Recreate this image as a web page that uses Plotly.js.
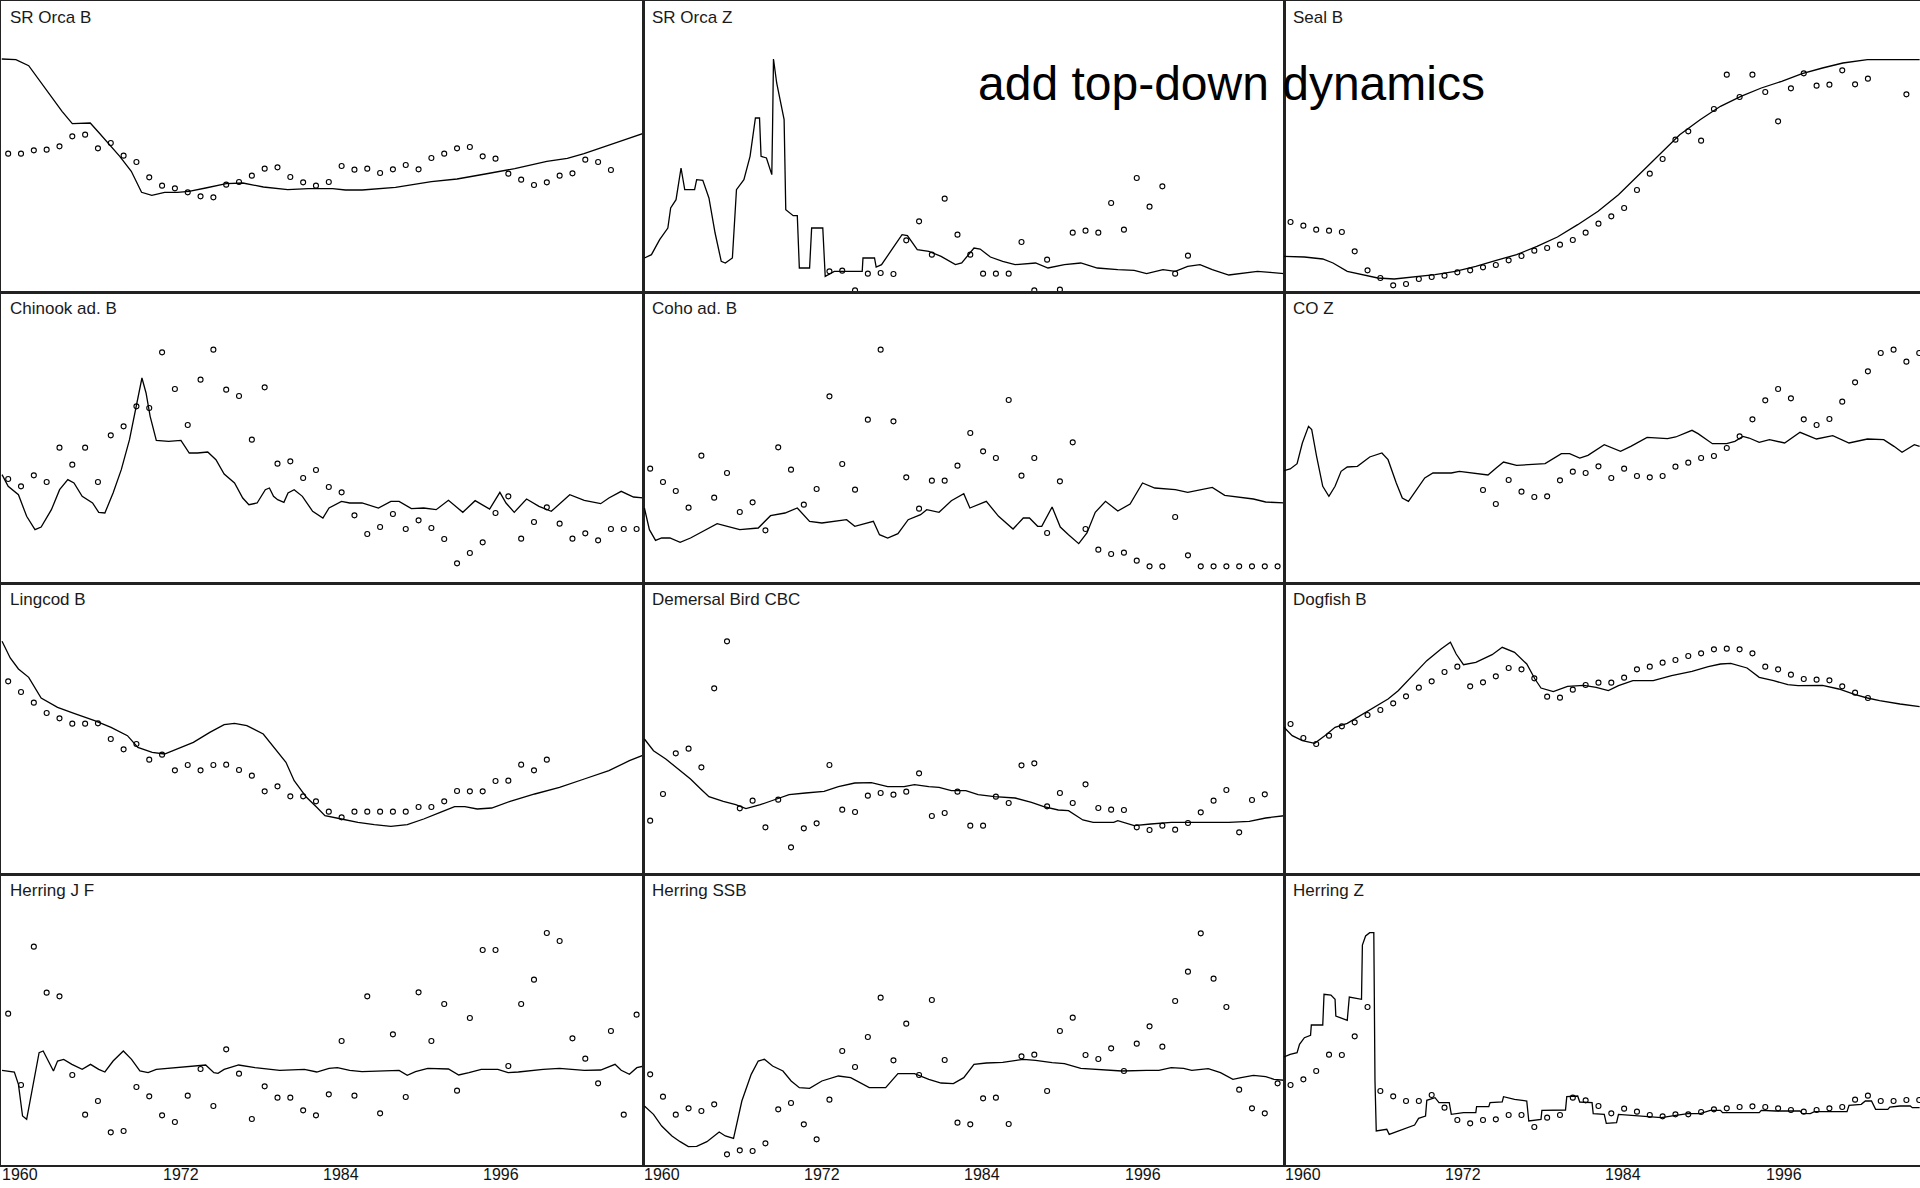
<!DOCTYPE html>
<html><head><meta charset="utf-8">
<script src="https://cdn.plot.ly/plotly-3.0.1.min.js"></script>
<style>html,body{margin:0;padding:0;background:#fff;overflow:hidden}#chart{width:1920px;height:1188px}</style>
</head><body><div id="chart"></div>
<script>
// ---------- DATA (relative index values, 0 = panel bottom) ----------
const panelNames = ["SR Orca B","SR Orca Z","Seal B","Chinook ad. B","Coho ad. B","CO Z",
  "Lingcod B","Demersal Bird CBC","Dogfish B","Herring J F","Herring SSB","Herring Z"];
const firstObsYear = 1960;
const tickLabels = ["1960","1972","1984","1996"];
const tickPositions = [1960.95, 1973.45, 1985.95, 1998.45];
const headline = "add top-down dynamics";

const srOrcaB_obs = [415,415,425,427,437,467,472,431,447,409,390,344,319,311,299,287,284,322,330,349,370,374,345,329,319,330,378,367,370,357,368,381,368,402,415,431,435,407,400,355,337,321,329,349,356,397,390,366];
const srOrcaB_years = [1959.5,1960.6,1961.6,1962.6,1963.5,1964.2,1965.0,1965.8,1966.4,1967.1,1968.0,1968.7,1969.6,1970.4,1971.2,1972.2,1973.2,1974.1,1975.4,1977.0,1978.3,1979.9,1981.8,1983.4,1985.3,1986.3,1987.6,1990.2,1993.0,1995.0,1997.2,1999.5,2002.0,2003.6,2004.9,2006.5,2008.1,2009.6];
const srOrcaB_model = [699,697,679,627,577,542,505,505,507,477,437,407,362,299,290,299,299,302,312,325,327,315,307,310,310,306,306,314,331,339,354,370,392,401,415,437,457,477];

const srOrcaZ_obs = [null,null,null,null,null,null,null,null,null,null,null,null,null,null,62,64,5,55,57,54,155,212,112,280,172,112,55,55,55,150,5,97,7,178,184,178,267,187,342,256,317,55,109];
const srOrcaZ_years = [1959.55,1960.10,1960.74,1961.38,1961.60,1962.02,1962.41,1962.50,1962.70,1963.47,1963.63,1964.11,1964.59,1965.07,1965.55,1965.87,1966.42,1966.74,1967.32,1967.80,1968.22,1968.54,1968.66,1969.08,1969.50,1969.56,1969.63,1969.88,1970.46,1970.59,1971.17,1971.49,1971.65,1972.45,1972.61,1973.48,1973.67,1974.38,1976.56,1976.62,1977.52,1977.65,1978.07,1978.87,1979.67,1980.09,1980.86,1981.76,1982.72,1983.84,1984.33,1985.29,1985.77,1986.57,1987.53,1988.50,1990.10,1991.07,1992.35,1993.63,1994.92,1996.52,1997.80,1998.77,2000.05,2001.01,2001.98,2002.94,2003.90,2005.19,2006.47,2007.43,2008.40,2009.55];
const srOrcaZ_model = [102,112,157,192,252,277,372,347,307,307,337,335,282,177,92,87,102,307,337,407,522,522,407,402,352,497,699,627,517,247,229,229,72,72,192,192,47,62,62,102,102,75,82,127,172,169,127,122,107,82,87,132,129,105,92,82,87,72,82,87,72,67,65,55,67,62,77,82,67,51,57,62,59,55];

const sealB_obs = [210,199,187,184,180,122,65,42,20,24,39,45,49,59,65,74,81,95,108,124,132,142,156,178,205,227,252,306,355,399,457,482,454,549,652,585,652,600,512,611,656,619,622,665,623,640,null,null,593];
const sealB_years = [1959.49,1961.08,1962.51,1963.31,1964.42,1965.53,1966.80,1968.08,1969.35,1971.26,1972.85,1974.44,1976.03,1977.62,1979.21,1980.80,1982.38,1983.97,1985.56,1987.15,1988.74,1990.33,1991.92,1993.51,1995.10,1996.69,1998.28,1999.87,2001.46,2003.05,2004.96,2006.87,2009.03];
const sealB_model = [107,105,99,87,62,52,42,39,44,52,62,77,95,112,137,165,202,242,292,352,412,472,517,557,587,612,632,655,672,687,697,697,697];

const chinook_obs = [312,290,323,303,406,355,406,303,443,470,530,525,692,582,474,610,700,580,561,430,587,358,365,315,339,288,272,203,147,168,207,162,188,165,132,59,90,122,210,260,133,183,227,178,133,149,128,162,162,162];
const chinook_years = [1959.52,1960.00,1960.80,1961.44,1962.09,1962.57,1963.37,1964.01,1964.65,1965.13,1965.77,1966.58,1967.06,1967.54,1968.18,1968.82,1969.46,1970.11,1970.43,1970.75,1971.07,1971.55,1972.51,1973.47,1974.12,1974.76,1975.56,1976.20,1976.84,1977.65,1978.29,1978.77,1979.41,1980.05,1980.37,1980.69,1981.01,1981.50,1981.82,1982.30,1982.94,1983.74,1984.54,1985.02,1985.99,1986.63,1987.59,1988.87,1989.84,1990.48,1991.44,1992.40,1993.37,1994.33,1995.45,1996.41,1997.54,1998.34,1998.82,1999.46,2000.42,2001.39,2002.35,2003.79,2004.92,2006.20,2006.84,2007.80,2008.76,2009.60];
const chinook_model = [325,290,265,200,160,168,220,280,310,300,260,240,212,210,270,340,430,550,615,570,500,428,425,428,390,390,393,370,327,300,255,235,240,280,285,260,250,242,270,280,260,215,195,225,245,240,240,225,245,245,223,225,220,248,212,247,222,272,240,212,252,230,215,265,248,238,255,275,258,255];

const coho_obs = [343,303,276,226,382,256,330,213,242,158,407,340,235,282,560,357,280,490,700,485,317,223,307,307,352,450,395,375,549,322,375,150,305,422,162,100,87,91,67,50,50,198,83,50,50,50,50,50,50,50];
const coho_years = [1959.55,1959.94,1960.42,1960.90,1961.54,1962.34,1963.15,1964.11,1965.23,1966.03,1967.00,1968.44,1969.40,1970.53,1971.49,1972.45,1973.41,1975.34,1975.98,1977.43,1977.91,1978.55,1979.35,1980.15,1981.12,1981.60,1982.56,1983.52,1984.49,1984.97,1986.25,1987.21,1988.34,1989.14,1989.62,1990.26,1990.58,1991.39,1992.03,1992.67,1993.47,1994.11,1994.76,1995.56,1996.52,1997.48,1998.45,1999.41,2001.01,2001.98,2003.90,2004.87,2007.11,2008.07,2009.55];
const coho_model = [225,160,128,135,135,122,135,155,178,170,160,165,202,210,225,185,180,190,170,185,145,135,148,190,205,220,212,247,268,225,245,200,162,195,195,170,170,228,168,145,118,150,212,245,216,237,300,285,280,272,287,263,252,243,240];

const coZ_obs = [null,null,null,null,null,null,null,null,null,null,null,null,null,null,null,279,237,309,274,258,260,308,334,330,350,315,343,321,317,321,349,361,375,381,405,440,491,548,582,554,491,474,492,544,602,635,690,700,664,690];
const coZ_years = [1959.49,1959.97,1960.51,1960.92,1961.40,1961.65,1962.03,1962.51,1962.99,1963.47,1963.94,1964.42,1965.21,1966.17,1967.12,1967.60,1968.24,1968.71,1969.19,1969.83,1970.46,1971.10,1972.53,1973.16,1974.12,1975.39,1976.03,1976.60,1977.62,1979.84,1981.11,1981.75,1982.54,1983.18,1984.45,1985.72,1986.52,1987.79,1989.38,1990.02,1991.29,1991.76,1992.88,1993.99,1994.63,1995.26,1995.74,1996.53,1997.33,1998.51,1999.71,2000.99,2002.26,2003.53,2004.96,2006.23,2007.03,2007.66,2008.62,2009.03];
const coZ_model = [337,342,358,420,470,460,380,290,260,290,335,348,350,378,390,370,300,255,245,280,315,330,330,335,330,324,345,363,353,358,388,388,375,383,415,395,410,437,433,438,458,448,418,418,425,440,435,422,430,420,452,432,442,420,432,430,410,392,415,410];

const lingcod_obs = [578,546,514,483,467,451,451,452,405,374,390,343,358,311,327,311,327,328,312,295,248,263,233,233,218,187,170,187,187,187,187,187,201,201,218,249,248,248,279,280,328,311,343];
const lingcod_years = [1959.52,1960.16,1960.80,1961.60,1962.57,1963.85,1965.13,1966.74,1968.02,1969.30,1970.11,1971.23,1972.19,1973.15,1974.44,1975.72,1976.84,1977.65,1978.61,1979.89,1980.85,1981.66,1982.30,1983.26,1984.06,1984.70,1985.99,1987.27,1988.55,1989.84,1991.12,1992.40,1993.69,1994.81,1995.61,1996.57,1997.70,1999.14,2001.06,2002.99,2004.92,2006.84,2008.44,2009.60];
const lingcod_model = [698,648,615,590,528,500,482,460,440,415,380,365,360,375,395,425,448,452,445,420,375,335,280,230,200,175,165,155,148,143,148,165,185,202,202,195,198,218,240,260,285,310,340,358];

const demersal_obs = [160,240,362,376,320,557,698,197,220,140,223,80,137,152,327,193,186,235,243,238,247,302,174,183,247,145,145,232,213,326,332,203,243,213,269,198,193,192,140,132,145,133,153,185,220,252,125,222,239];
const demersal_years = [1959.55,1960.26,1961.22,1962.18,1963.15,1963.95,1964.59,1965.71,1966.68,1967.48,1968.60,1969.88,1970.85,1972.13,1973.58,1974.70,1975.98,1977.27,1978.55,1979.83,1980.64,1981.76,1982.56,1983.52,1984.65,1985.61,1986.89,1988.50,1989.78,1990.74,1991.87,1992.67,1993.79,1994.60,1996.20,1996.52,1997.80,1999.09,2000.69,2001.98,2003.58,2005.19,2006.79,2008.07,2009.55];
const demersal_model = [405,370,345,315,285,255,232,218,208,196,208,225,238,243,248,262,273,274,262,262,268,262,260,250,250,238,232,228,215,202,192,190,162,155,155,160,145,150,155,155,155,155,158,168,175];

const dogfish_obs = [450,408,390,415,443,455,477,492,512,533,559,578,606,622,563,575,593,618,614,587,532,529,553,567,574,574,589,614,622,634,642,654,662,674,676,674,662,622,614,598,585,583,581,563,544,528];
const dogfish_years = [1959.49,1960.13,1960.92,1961.88,1962.67,1963.47,1964.42,1965.85,1967.60,1968.39,1969.35,1970.62,1971.73,1972.46,1972.91,1973.48,1974.44,1975.71,1976.50,1977.46,1978.41,1979.05,1979.52,1980.48,1981.59,1982.86,1983.82,1984.77,1985.56,1986.68,1988.27,1989.70,1991.29,1992.56,1993.51,1994.31,1995.58,1996.53,1997.65,1998.76,1999.55,2001.46,2002.73,2004.01,2004.96,2005.91,2007.50,2009.03];
const dogfish_model = [440,415,400,392,415,440,452,485,525,550,590,640,675,695,660,628,635,658,680,665,630,585,558,547,563,566,560,550,565,580,580,595,608,622,630,632,618,590,580,568,565,566,555,538,528,520,510,502];

const herringJF_obs = [454,240,655,517,506,270,151,192,98,102,234,206,149,129,208,288,177,347,274,138,236,202,202,164,149,212,372,208,506,155,392,204,518,372,483,223,441,645,645,297,483,556,696,672,380,319,245,402,151,451];
const herringJF_years = [1959.52,1960.48,1960.80,1961.12,1961.44,1961.92,1962.41,1962.73,1963.05,1963.53,1963.85,1964.33,1964.97,1965.77,1966.42,1967.06,1967.54,1968.18,1968.98,1969.62,1970.27,1970.91,1971.55,1972.83,1974.12,1975.40,1976.04,1976.36,1976.84,1977.97,1979.25,1981.17,1983.10,1984.06,1985.02,1985.67,1986.63,1987.59,1990.48,1991.12,1991.76,1992.72,1994.33,1995.13,1995.93,1996.89,1998.18,1998.98,1999.78,2001.71,2002.99,2004.92,2006.20,2007.32,2007.80,2008.44,2009.02,2009.60];
const herringJF_model = [284,279,242,147,137,242,337,342,317,282,312,317,302,287,302,287,279,312,342,317,282,277,287,292,297,300,277,275,287,300,292,284,287,279,290,292,284,280,284,269,280,290,288,270,277,287,287,277,279,287,290,284,285,302,284,272,292,297];

const herringSSB_obs = [272,205,151,170,162,182,32,44,42,65,167,186,122,77,196,342,294,384,502,314,424,270,495,315,127,122,200,202,123,326,331,222,402,442,330,318,350,282,364,416,355,492,580,695,559,474,226,170,155,245];
const herringSSB_years = [1959.55,1960.26,1960.90,1961.70,1962.34,1962.98,1963.63,1964.43,1965.39,1965.87,1966.51,1967.16,1967.89,1968.44,1968.92,1969.56,1970.37,1971.01,1971.65,1972.45,1973.41,1974.70,1975.66,1977.11,1978.39,1979.35,1980.64,1981.76,1982.72,1983.68,1984.49,1985.29,1986.25,1987.53,1989.14,1990.10,1991.39,1992.35,1993.63,1995.24,1996.84,1998.77,1999.73,2000.69,2001.66,2002.30,2003.58,2004.54,2005.51,2006.15,2007.11,2008.07,2008.72,2009.55];
const herringSSB_model = [177,152,117,87,70,55,56,70,99,87,80,192,272,312,317,297,282,252,232,230,252,267,262,232,232,274,274,257,246,244,262,302,306,308,317,314,307,304,290,286,282,284,284,292,290,284,289,277,257,262,269,265,257,254];

const herringZ_obs = [240,257,282,331,330,386,474,222,206,192,192,210,172,135,125,135,137,150,150,114,142,150,202,194,177,155,169,160,150,146,152,152,159,167,170,174,176,174,170,165,160,165,170,174,196,208,192,192,195,195];
const herringZ_years = [1959.49,1959.97,1960.51,1960.70,1961.08,1961.56,1961.62,1962.51,1962.61,1963.15,1963.47,1963.53,1964.42,1964.58,1965.53,1965.60,1965.85,1966.17,1966.49,1966.58,1966.68,1967.50,1967.69,1968.71,1969.67,1969.98,1970.52,1970.62,1971.26,1971.57,1972.37,1972.53,1973.48,1974.44,1974.50,1975.45,1975.55,1976.50,1976.60,1977.46,1978.41,1978.57,1979.52,1979.59,1980.48,1981.43,1981.53,1982.38,1982.54,1983.50,1983.59,1984.45,1984.61,1985.41,1985.56,1986.52,1987.79,1988.90,1990.02,1990.97,1991.92,1992.72,1993.51,1993.67,1996.53,1996.69,1997.81,1999.71,1999.87,2000.51,2000.83,2003.37,2003.53,2004.48,2004.80,2005.28,2005.60,2006.55,2006.71,2007.50,2008.30,2008.46,2009.03];
const herringZ_model = [324,332,337,362,382,389,420,420,512,510,497,447,434,504,497,660,687,697,697,254,102,107,92,107,120,140,147,194,202,187,187,152,157,157,175,175,187,189,205,197,192,132,137,164,164,165,205,207,189,187,154,152,125,127,152,149,147,142,149,154,154,164,164,157,157,164,162,162,155,154,160,160,179,182,192,192,167,167,174,177,177,172,172];

// ---------- BUILD ----------
const series = [
  [srOrcaB_obs, srOrcaB_years, srOrcaB_model],
  [srOrcaZ_obs, srOrcaZ_years, srOrcaZ_model],
  [sealB_obs, sealB_years, sealB_model],
  [chinook_obs, chinook_years, chinook_model],
  [coho_obs, coho_years, coho_model],
  [coZ_obs, coZ_years, coZ_model],
  [lingcod_obs, lingcod_years, lingcod_model],
  [demersal_obs, demersal_years, demersal_model],
  [dogfish_obs, dogfish_years, dogfish_model],
  [herringJF_obs, herringJF_years, herringJF_model],
  [herringSSB_obs, herringSSB_years, herringSSB_model],
  [herringZ_obs, herringZ_years, herringZ_model]
];

const W = 1920, H = 1188, ML = 1, MT = 1, MB = 23, MR = 0;
const PW = W - ML - MR, PH = H - MT - MB;
const px2x = p => (p - ML) / PW;
const py2y = p => 1 - (p - MT) / PH;
const colPx = [[1, 643], [643, 1284], [1284, 1920]];
const rowPx = [[1, 292], [292, 583], [583, 874], [874, 1165]];
const xRanges = [[1959.44, 2009.5], [1959.44, 2009.5], [1959.49, 2009.06]];
const FONT = "Liberation Sans, Arial, Helvetica, sans-serif";

const traces = [];
const layout = {
  width: W, height: H, autosize: false,
  margin: {l: ML, r: MR, t: MT, b: MB, pad: 0},
  paper_bgcolor: "#ffffff", plot_bgcolor: "#ffffff",
  showlegend: false,
  font: {family: FONT, color: "#111"},
  annotations: []
};

series.forEach((s, k) => {
  const [obs, yrs, mod] = s;
  const sfx = k === 0 ? "" : String(k + 1);
  const col = k % 3, row = Math.floor(k / 3);
  traces.push({
    type: "scatter", mode: "lines", x: yrs, y: mod,
    xaxis: "x" + sfx, yaxis: "y" + sfx,
    line: {color: "#000", width: 1.3}, hoverinfo: "skip"
  });
  traces.push({
    type: "scatter", mode: "markers",
    x: obs.map((v, i) => firstObsYear + i), y: obs,
    xaxis: "x" + sfx, yaxis: "y" + sfx,
    marker: {symbol: "circle-open", size: 5, color: "#000", line: {width: 1.1, color: "#000"}},
    hoverinfo: "skip"
  });
  layout["xaxis" + sfx] = {
    domain: [px2x(colPx[col][0]), px2x(colPx[col][1])],
    anchor: "y" + sfx, range: xRanges[col],
    showgrid: false, zeroline: false, ticks: "", showticklabels: false,
    showline: true, mirror: true, linecolor: "#222", linewidth: 1.5,
    fixedrange: true
  };
  layout["yaxis" + sfx] = {
    domain: [py2y(rowPx[row][1]), py2y(rowPx[row][0])],
    anchor: "x" + sfx, range: [0, 873],
    showgrid: false, zeroline: false, ticks: "", showticklabels: false,
    showline: true, mirror: col < 2, linecolor: "#222", linewidth: 1.5,
    fixedrange: true
  };
  layout.annotations.push({
    xref: "paper", yref: "paper",
    x: px2x(colPx[col][0] + 7), y: py2y(rowPx[row][0] + 17),
    xanchor: "left", yanchor: "middle",
    text: panelNames[k], showarrow: false,
    font: {family: FONT, size: 17, color: "#1a1a1a"}
  });
  if (row === 3) {
    tickPositions.forEach((tp, j) => {
      layout.annotations.push({
        xref: "x" + sfx, yref: "paper",
        x: tp, y: py2y(1174), xanchor: "center", yanchor: "middle",
        text: tickLabels[j], showarrow: false,
        font: {family: FONT, size: 16, color: "#111"}
      });
    });
  }
});

layout.annotations.push({
  xref: "paper", yref: "paper",
  x: px2x(1231), y: py2y(83.5), xanchor: "center", yanchor: "middle",
  text: headline, showarrow: false,
  font: {family: FONT, size: 48, color: "#000"}
});

Plotly.newPlot("chart", traces, layout, {staticPlot: true, displayModeBar: false});
</script>
</body></html>
